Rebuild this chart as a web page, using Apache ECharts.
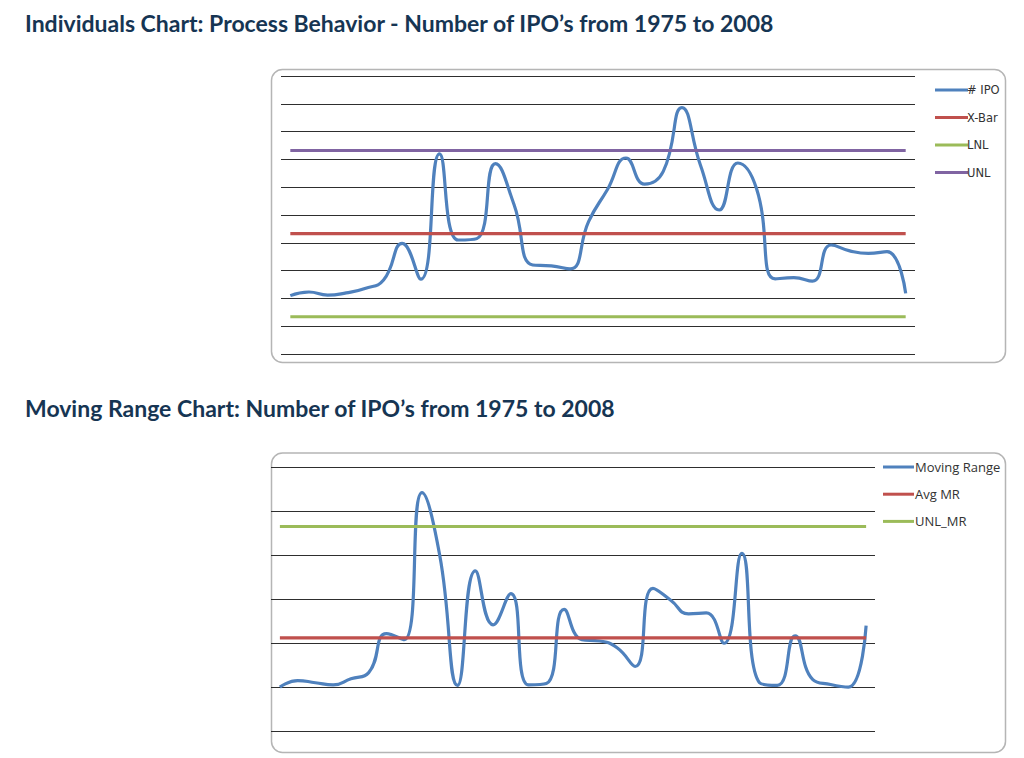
<!DOCTYPE html>
<html>
<head>
<meta charset="utf-8">
<script src="https://cdn.jsdelivr.net/npm/echarts@6/dist/echarts.min.js"></script>
<style>
  html, body { margin: 0; padding: 0; background: #ffffff; }
  #chart { width: 1024px; height: 758px; }
</style>
</head>
<body>
<div id="chart"></div>
<script>
// ---- Data ----
const years = [1975,1976,1977,1978,1979,1980,1981,1982,1983,1984,1985,1986,1987,1988,1989,1990,1991,1992,1993,1994,1995,1996,1997,1998,1999,2000,2001,2002,2003,2004,2005,2006,2007,2008];
const ipoCounts = [10,23,12,20,36,66,198,69,520,210,215,485,337,120,117,106,277,391,505,411,457,686,478,318,487,395,70,75,62,192,171,162,168,18];
const xBarValue = 233;
const unlValue = 532;
const lnlValue = -66;

const movingRange = [0,15,10,5,19,33,122,108,443,300,4,265,142,213,5,8,177,108,105,89,47,225,198,167,169,100,305,10,4,117,17,6,0,140];
const avgMRValue = 112;
const unlMRValue = 366;

const title1 = 'Individuals Chart: Process Behavior - Number of IPO\u2019s from 1975 to 2008';
const title2 = 'Moving Range Chart: Number of IPO\u2019s from 1975 to 2008';
const legend1 = ['# IPO', 'X-Bar', 'LNL', 'UNL'];
const legend2 = ['Moving Range', 'Avg MR', 'UNL_MR'];

// ---- Build chart ----
const chart = echarts.init(document.getElementById('chart'), null, { renderer: 'svg' });
const constant = (v, n) => Array.from({ length: n }, () => v);

const BLUE = '#4F81BD', RED = '#C0504D', GREEN = '#9BBB59', PURPLE = '#8064A2';
const gridLine = { show: true, lineStyle: { color: '#2e2e2e', width: 1.2 } };

function lineSeries(name, data, color, idx, smooth) {
  return {
    name, type: 'line', data,
    xAxisIndex: idx, yAxisIndex: idx,
    showSymbol: false, symbol: 'none',
    smooth: smooth ? 0.5 : false,
    lineStyle: { color, width: 3.2 },
    itemStyle: { color },
    silent: true, animation: false
  };
}

const titleStyle = { fontFamily: 'Lato', fontWeight: 'bold', fontSize: 23, color: '#163553' };

chart.setOption({
  backgroundColor: '#ffffff',
  animation: false,
  title: [
    { text: title1, left: 20, top: 6, textStyle: titleStyle },
    { text: title2, left: 20, top: 391, textStyle: titleStyle }
  ],
  graphic: [
    { type: 'rect', z: -10, shape: { x: 271.5, y: 69.5, width: 734, height: 293, r: 11 }, style: { fill: '#fff', stroke: '#b5b5b5', lineWidth: 1.5 } },
    { type: 'rect', z: -10, shape: { x: 271.5, y: 453, width: 734, height: 299.5, r: 11 }, style: { fill: '#fff', stroke: '#b5b5b5', lineWidth: 1.5 } }
  ],
  legend: [
    {
      orient: 'vertical', left: 930, top: 78, data: legend1,
      icon: 'rect', itemWidth: 33, itemHeight: 3, itemGap: 13.5,
      textStyle: { fontFamily: 'DejaVu Sans', fontSize: 11.5, color: '#333', lineHeight: 14, padding: [0, 0, 0, -6] },
      selectedMode: false
    },
    {
      orient: 'vertical', left: 878, top: 455, data: legend2,
      icon: 'rect', itemWidth: 31, itemHeight: 3, itemGap: 13.2,
      textStyle: { fontFamily: 'Open Sans', fontSize: 13, color: '#333', lineHeight: 14, padding: [0, 0, 0, -4] },
      selectedMode: false
    }
  ],
  grid: [
    { left: 281, top: 76, width: 634, height: 278 },
    { left: 271, top: 467.7, width: 604, height: 263.3 }
  ],
  xAxis: [
    { gridIndex: 0, type: 'category', data: years, boundaryGap: true, show: false },
    { gridIndex: 1, type: 'category', data: years, boundaryGap: true, show: false }
  ],
  yAxis: [
    { gridIndex: 0, type: 'value', min: -200, max: 800, interval: 100,
      axisLine: { show: false }, axisTick: { show: false }, axisLabel: { show: false }, splitLine: gridLine },
    { gridIndex: 1, type: 'value', min: -100, max: 500, interval: 100,
      axisLine: { show: false }, axisTick: { show: false }, axisLabel: { show: false }, splitLine: gridLine }
  ],
  series: [
    lineSeries('# IPO', ipoCounts, BLUE, 0, true),
    lineSeries('X-Bar', constant(xBarValue, years.length), RED, 0, false),
    lineSeries('LNL', constant(lnlValue, years.length), GREEN, 0, false),
    lineSeries('UNL', constant(unlValue, years.length), PURPLE, 0, false),
    lineSeries('Moving Range', movingRange, BLUE, 1, true),
    lineSeries('Avg MR', constant(avgMRValue, years.length), RED, 1, false),
    lineSeries('UNL_MR', constant(unlMRValue, years.length), GREEN, 1, false)
  ]
});
</script>
</body>
</html>
